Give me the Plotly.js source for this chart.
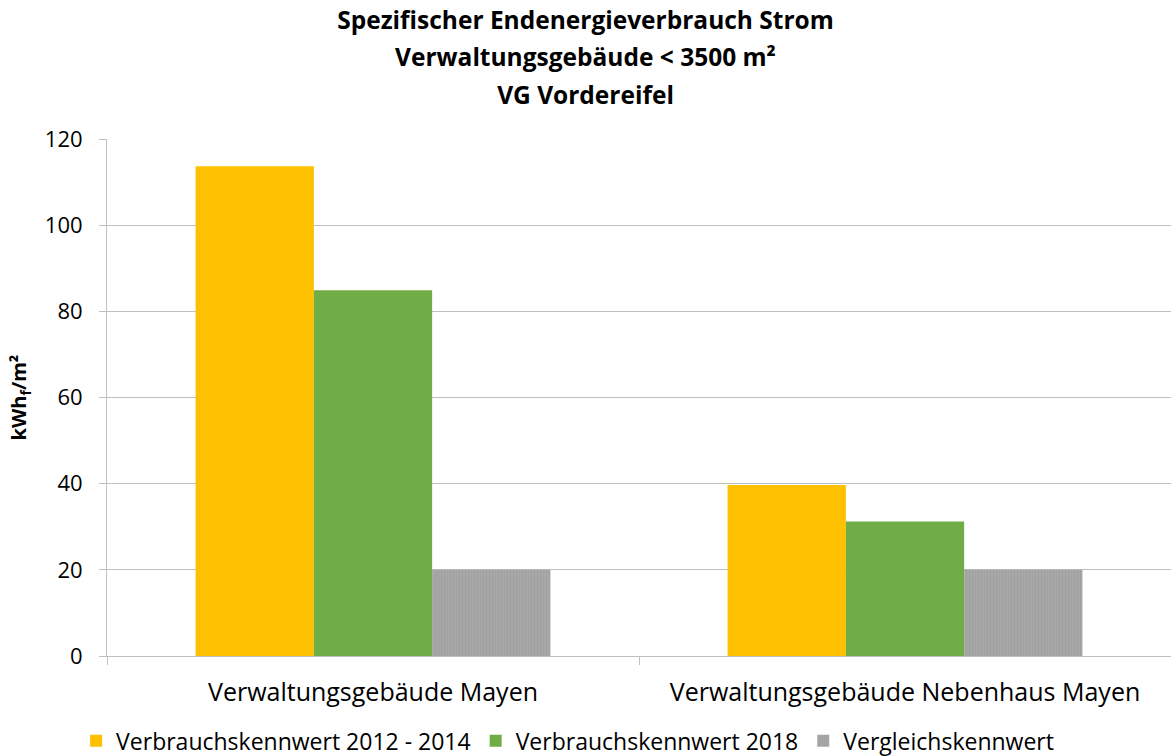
<!DOCTYPE html>
<html>
<head>
<meta charset="utf-8">
<script src="https://cdn.plot.ly/plotly-3.0.1.min.js"></script>
<style>html,body{margin:0;padding:0;background:#fff;}#chart{width:1171px;height:756px;}</style>
</head>
<body>
<div id="chart"></div>
<script>
var categories = ["Verwaltungsgebäude Mayen", "Verwaltungsgebäude Nebenhaus Mayen"];
var seriesNames = ["Verbrauchskennwert 2012 - 2014", "Verbrauchskennwert 2018", "Vergleichskennwert"];
var verbrauch2012_2014 = [113.7, 39.7];
var verbrauch2018 = [84.9, 31.2];
var vergleich = [20, 20];
var yTicks = [0, 20, 40, 60, 80, 100, 120];
var titleLines = ["Spezifischer Endenergieverbrauch Strom", "Verwaltungsgebäude < 3500 m²", "VG Vordereifel"];

var FONT = "'Open Sans', 'Noto Sans', sans-serif";
var colors = ["#ffc000", "#70ad47", "#a5a5a5"];
var values = [verbrauch2012_2014, verbrauch2018, vergleich];

var traces = values.map(function (v, i) {
  var t = {
    type: "bar",
    name: seriesNames[i],
    x: categories,
    y: v,
    marker: { color: colors[i], line: { width: 0 } },
    hoverinfo: "x+y+name"
  };
  if (i === 2) {
    t.marker.pattern = { shape: "|", size: 3, solidity: 0.3, fgcolor: "#a0a0a0", bgcolor: "#a7a7a7" };
  }
  return t;
});

var titleText = titleLines.map(function (s) {
  return '<span style="font-size:24.5px"><b>' + s.replace(/</g, "&lt;") + '</b></span>';
}).join("<br>");

var layout = {
  width: 1171,
  height: 756,
  paper_bgcolor: "#ffffff",
  plot_bgcolor: "#ffffff",
  margin: { l: 107, r: 0, t: 139, b: 100 },
  font: { family: FONT, color: "#000000" },
  title: {
    text: titleText,
    font: { family: FONT, size: 29, color: "#000000" },
    x: 0.5, xanchor: "center",
    y: 0.962, yanchor: "top",
    xref: "container", yref: "container"
  },
  barmode: "group",
  bargap: 0.333,
  bargroupgap: 0,
  showlegend: true,
  legend: {
    orientation: "h",
    xref: "container", yref: "container",
    x: 0.065, xanchor: "left",
    y: 0.02, yanchor: "middle",
    font: { family: FONT, size: 23, color: "#000000" },
    traceorder: "normal",
    itemwidth: 30
  },
  xaxis: {
    type: "category",
    tickson: "boundaries",
    ticks: "outside",
    ticklen: 8,
    tickcolor: "#bfbfbf",
    showline: true,
    linecolor: "#bfbfbf",
    linewidth: 1,
    showgrid: false,
    tickfont: { family: FONT, size: 25, color: "#000000" },
    ticklabelstandoff: 14
  },
  yaxis: {
    range: [0, 120],
    tickvals: yTicks,
    ticktext: yTicks.map(String),
    ticks: "outside",
    ticklen: 7,
    tickcolor: "#bfbfbf",
    showline: true,
    linecolor: "#bfbfbf",
    linewidth: 1,
    showgrid: true,
    gridcolor: "#bfbfbf",
    gridwidth: 1,
    zeroline: false,
    tickfont: { family: FONT, size: 22, color: "#000000" },
    ticklabelstandoff: 12,
    title: {
      text: "<b>kWh<sub>f</sub>/m²</b>",
      font: { family: FONT, size: 20, color: "#000000" },
      standoff: 12
    }
  }
};

Plotly.newPlot("chart", traces, layout, { displayModeBar: false, staticPlot: true });
</script>
</body>
</html>
